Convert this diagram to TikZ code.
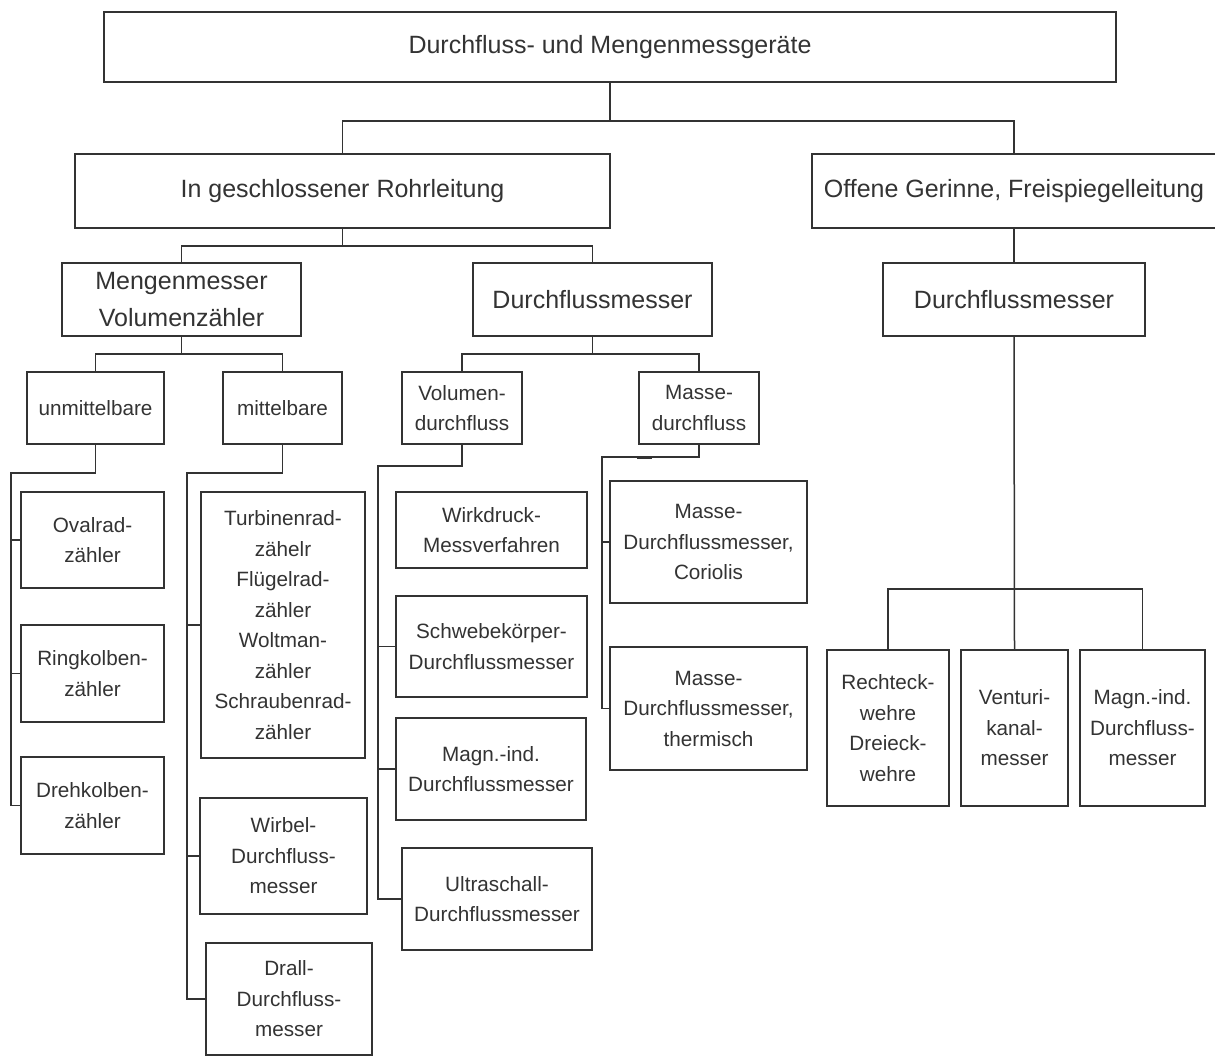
\documentclass[tikz,border=0pt]{standalone}
\usepackage{fontspec}
\setmainfont{Liberation Sans}
\begin{document}
\begin{tikzpicture}[x=1pt,y=-1pt,
  box/.style={draw=black!80, line width=1.6pt, fill=white, inner sep=0pt,
    align=center, text=black!80, anchor=center},
  big/.style={box, font=\fontsize{25}{37}\selectfont},
  small/.style={box, font=\fontsize{20.7}{30.5}\selectfont},
  link/.style={draw=black!80, line width=1.5pt}]
\useasboundingbox (0,0) rectangle (1215,1057);
\clip (0,0) rectangle (1215,1057);

% top levels
\node[big, minimum width=1012, minimum height=70] (top) at (610,47) {Durchfluss- und Mengenmessgeräte};
\node[big, minimum width=535, minimum height=74] (rohr) at (342.5,191) {In geschlossener Rohrleitung};
\node[big, minimum width=404, minimum height=74] (offen) at (1014,191) {Offene Gerinne, Freispiegelleitung};
\node[big, minimum width=239, minimum height=73] (menge) at (181.5,299.5) {Mengenmesser\\Volumenzähler};
\node[big, minimum width=239, minimum height=73] (dfl) at (592.5,299.5) {Durchflussmesser};
\node[big, minimum width=262, minimum height=73] (dfr) at (1014,299.5) {Durchflussmesser};

% third level
\node[small, minimum width=137, minimum height=72] (unm) at (95.5,408) {unmittelbare};
\node[small, minimum width=119, minimum height=72] (mit) at (282.5,408) {mittelbare};
\node[small, minimum width=120, minimum height=72] (vol) at (462,408) {Volumen-\\durchfluss};
\node[small, minimum width=120, minimum height=72] (mas) at (699,408) {Masse-\\durchfluss};

% leaves: unmittelbare
\node[small, minimum width=143, minimum height=96] (oval) at (92.5,540) {Ovalrad-\\zähler};
\node[small, minimum width=143, minimum height=97] (ring) at (92.5,673.5) {Ringkolben-\\zähler};
\node[small, minimum width=143, minimum height=97] (dreh) at (92.5,805.5) {Drehkolben-\\zähler};

% leaves: mittelbare
\node[small, minimum width=164, minimum height=266] (turb) at (283,625) {Turbinenrad-\\zähelr\\Flügelrad-\\zähler\\Woltman-\\zähler\\Schraubenrad-\\zähler};
\node[small, minimum width=167, minimum height=116] (wirb) at (283.5,856) {Wirbel-\\Durchfluss-\\messer};
\node[small, minimum width=166, minimum height=112] (drall) at (289,999) {Drall-\\Durchfluss-\\messer};

% leaves: Volumendurchfluss
\node[small, minimum width=191, minimum height=76] (wirk) at (491.5,530) {Wirkdruck-\\Messverfahren};
\node[small, minimum width=191, minimum height=101] (schw) at (491.5,646.5) {Schwebekörper-\\Durchflussmesser};
\node[small, minimum width=190, minimum height=102] (magl) at (491,769) {Magn.-ind.\\Durchflussmesser};
\node[small, minimum width=190, minimum height=102] (ultra) at (497,899) {Ultraschall-\\Durchflussmesser};

% leaves: Massedurchfluss
\node[small, minimum width=197, minimum height=122] (cor) at (708.5,542) {Masse-\\Durchflussmesser,\\Coriolis};
\node[small, minimum width=197, minimum height=123] (therm) at (708.5,708.5) {Masse-\\Durchflussmesser,\\thermisch};

% leaves: open channel
\node[small, minimum width=122, minimum height=156] (recht) at (888,728) {Rechteck-\\wehre\\Dreieck-\\wehre};
\node[small, minimum width=107, minimum height=156] (vent) at (1014.5,728) {Venturi-\\kanal-\\messer};
\node[small, minimum width=125, minimum height=156] (magr) at (1142.5,728) {Magn.-ind.\\Durchfluss-\\messer};

% junction points
\coordinate (j1) at (610,121);
\coordinate (j2) at (342.5,246);
\coordinate (j3) at (181.5,354);
\coordinate (j4) at (592.5,354);
\coordinate (j5) at (1014,589);
\coordinate (r1) at (11,473);
\coordinate (r2) at (187,473);
\coordinate (r3) at (378,466);
\coordinate (r4) at (602,457);

% connectors
\draw[link] (top.south) -- (j1);
\draw[link] (rohr.north) |- (j1) -| (offen.north);
\draw[link] (rohr.south) -- (j2);
\draw[link] (menge.north) |- (j2) -| (dfl.north);
\draw[link] (offen.south) -- (dfr.north);
\draw[link] (menge.south) -- (j3);
\draw[link] (unm.north) |- (j3) -| (mit.north);
\draw[link] (dfl.south) -- (j4);
\draw[link] (vol.north) |- (j4) -| (mas.north);
\draw[link] (dfr.south) -- (vent.north);
\draw[link] (recht.north) |- (j5) -| (magr.north);

\draw[link] (unm.south) |- (r1) |- (dreh.west);
\draw[link] (r1 |- oval.west) -- (oval.west);
\draw[link] (r1 |- ring.west) -- (ring.west);

\draw[link] (mit.south) |- (r2) |- (drall.west);
\draw[link] (r2 |- turb.west) -- (turb.west);
\draw[link] (r2 |- wirb.west) -- (wirb.west);

\draw[link] (vol.south) |- (r3) |- (ultra.west);
\draw[link] (r3 |- schw.west) -- (schw.west);
\draw[link] (r3 |- magl.west) -- (magl.west);

\draw[link] (mas.south) |- (r4) |- (therm.west);
\draw[link] (r4 |- cor.west) -- (cor.west);
\draw[draw=black!80, line width=3pt] (637,457) -- (652,457);
\end{tikzpicture}
\end{document}
